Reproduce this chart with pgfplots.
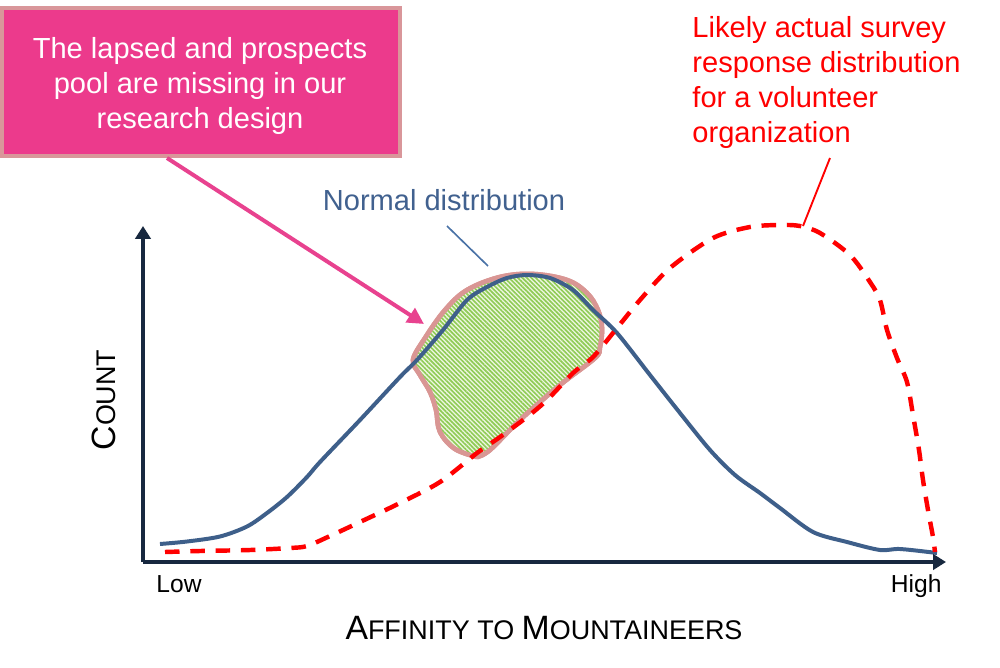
\documentclass[border=0pt]{standalone}
\usepackage{pgfplots}
\pgfplotsset{compat=1.18}
\usepackage{fontspec}
\setmainfont{Liberation Sans}
\usetikzlibrary{arrows.meta,patterns.meta}
\definecolor{navy}{HTML}{17283F}
\definecolor{curveblue}{HTML}{3E5F8A}
\definecolor{txtblue}{HTML}{41618F}
\definecolor{ptrblue}{HTML}{4A72A6}
\definecolor{boxpink}{HTML}{EC3A8C}
\definecolor{boxborder}{HTML}{D9969A}
\definecolor{arrowpink}{HTML}{E8428F}
\definecolor{blobline}{HTML}{D99694}
\definecolor{blobgreen}{HTML}{8FCB55}
\definecolor{blobbg}{HTML}{EEF7E2}
\definecolor{myred}{HTML}{FF0000}
\begin{document}
\begin{tikzpicture}
\begin{axis}[
  x=0.15mm, y=0.15mm,
  xmin=0, xmax=1000, ymin=0, ymax=668,
  y dir=reverse,
  hide axis, clip=false,
]
\path (axis cs:0,0) rectangle (axis cs:1000,668);
% highlighted region
\addplot[draw=blobline, line width=2pt, smooth, tension=0.6,
  preaction={fill=blobbg},
  pattern={Lines[angle=-45,distance=1.35pt,line width=0.7pt]}, pattern color=blobgreen]
coordinates {(477,457) (455,449) (440,432) (436,410) (430,392) (420,375) (413,360) (425,338) (445,310) (467,290) (500,277) (533,274) (567,280) (587,293) (598,310) (602,328) (600,347) (595,358) (560,385) (520,420) (490,450) (477,457)};

% normal distribution
\addplot[draw=curveblue, line width=1.7pt, smooth, tension=0.5] coordinates {
(160,544) (187,541.5) (220,536.5) (247,526.5) (267,513) (287,497) (307,477) (320,462) (360,420) (400,377) (417,360) (443,330) (467,300) (487,287) (507,278) (527,275) (550,278) (573,290) (593,310) (617,333) (650,375) (680,413) (710,450) (735,475) (760,493) (780,508) (813,532) (847,542) (880,550) (900,549) (937,553)};

% actual distribution
\addplot[draw=myred, line width=1.9pt, dash pattern=on 6.2pt off 4.6pt, smooth, tension=0.5] coordinates {
(165,552) (200,551) (250,550) (290,548) (307,546) (330,536) (360,522) (400,503) (440,482) (477,453) (500,437) (527,417) (547,400) (573,373) (593,357) (613,333) (640,300) (670,268) (713,238) (750,227) (780,225) (800,226) (820,233) (850,255) (870,282) (880,300) (887,330) (897,358) (907,382) (913,415) (919,450) (923,480) (928,510) (933,537) (935,552)};

% axes
\draw[navy, line width=1.9pt, -{Triangle[length=5.5pt,width=6.5pt]}] (axis cs:143,562) -- (axis cs:143,226);
\draw[navy, line width=1.9pt, -{Triangle[length=5.5pt,width=6.5pt]}] (axis cs:143,562) -- (axis cs:946,562);

% axis labels
\node[anchor=base west, inner sep=0pt, font=\fontsize{10.5}{12}\selectfont] at (axis cs:156,592) {Low};
\node[anchor=base east, inner sep=0pt, font=\fontsize{10.5}{12}\selectfont] at (axis cs:942,592) {High};
\node[anchor=base, inner sep=0pt, rotate=90] at (axis cs:115,400)
  {{\fontsize{14.4}{16}\selectfont C}{\fontsize{11.5}{14}\selectfont OUNT}};
\node[anchor=base, inner sep=0pt] at (axis cs:544,639)
  {{\fontsize{14.4}{16}\selectfont A}{\fontsize{11.5}{14}\selectfont FFINITY TO }{\fontsize{14.4}{16}\selectfont M}{\fontsize{11.5}{14}\selectfont OUNTAINEERS}};

% callout box
\draw[fill=boxpink, draw=boxborder, line width=1.3pt] (axis cs:2,8) rectangle (axis cs:400,156);
\node[anchor=base, inner sep=0pt, text=white, font=\fontsize{12.4}{15}\selectfont] at (axis cs:200,58) {The lapsed and prospects};
\node[anchor=base, inner sep=0pt, text=white, font=\fontsize{12.4}{15}\selectfont] at (axis cs:200,93) {pool are missing in our};
\node[anchor=base, inner sep=0pt, text=white, font=\fontsize{12.4}{15}\selectfont] at (axis cs:200,128) {research design};
\draw[arrowpink, line width=1.7pt, -{Triangle[length=7pt,width=7pt]}] (axis cs:167,158) -- (axis cs:424,324);

% normal distribution label
\node[anchor=base, inner sep=0pt, text=txtblue, font=\fontsize{12.4}{15}\selectfont] at (axis cs:444,210) {Normal distribution};
\draw[ptrblue, line width=0.7pt] (axis cs:447,226) -- (axis cs:488,266);

% red label
\node[anchor=base west, inner sep=0pt, text=myred, font=\fontsize{12.4}{15}\selectfont] at (axis cs:692,37) {Likely actual survey};
\node[anchor=base west, inner sep=0pt, text=myred, font=\fontsize{12.4}{15}\selectfont] at (axis cs:692,72) {response distribution};
\node[anchor=base west, inner sep=0pt, text=myred, font=\fontsize{12.4}{15}\selectfont] at (axis cs:692,107) {for a volunteer};
\node[anchor=base west, inner sep=0pt, text=myred, font=\fontsize{12.4}{15}\selectfont] at (axis cs:692,142) {organization};
\draw[myred, line width=0.8pt] (axis cs:830,158) -- (axis cs:803,226);
\end{axis}
\end{tikzpicture}
\end{document}
